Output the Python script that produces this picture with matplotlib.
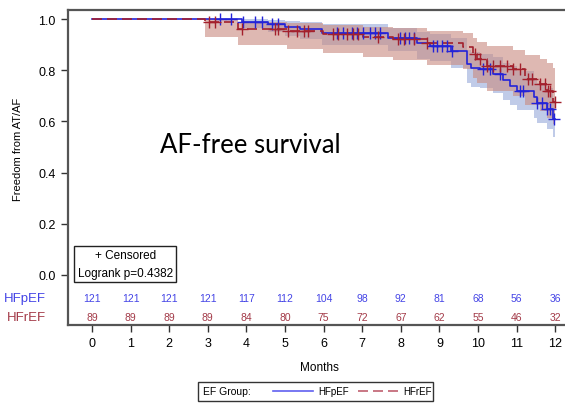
import numpy as np
import matplotlib.pyplot as plt
from matplotlib.lines import Line2D
from matplotlib.patches import Rectangle

plt.rcParams['font.family'] = ['Liberation Sans Narrow', 'Liberation Sans', 'DejaVu Sans']

# HFpEF (blue) step curve and 95% band
t_p = [0, 3.88, 4.57, 5.0, 5.4, 5.95, 7.68, 8.41, 8.76, 9.3, 9.71, 9.83, 10.05, 10.4, 10.66, 10.83, 11.0, 11.44, 11.52, 11.78, 11.95]
s_p = [1.0, 0.99, 0.98, 0.97, 0.96, 0.945, 0.925, 0.905, 0.895, 0.876, 0.824, 0.81, 0.805, 0.785, 0.76, 0.74, 0.72, 0.694, 0.67, 0.648, 0.61]
lo_p = [1.0, 0.965, 0.95, 0.935, 0.92, 0.9, 0.875, 0.845, 0.835, 0.81, 0.75, 0.735, 0.73, 0.71, 0.685, 0.665, 0.645, 0.615, 0.595, 0.57, 0.54]
hi_p = [1.0, 1.0, 0.998, 0.993, 0.988, 0.98, 0.965, 0.95, 0.94, 0.925, 0.88, 0.87, 0.865, 0.85, 0.83, 0.815, 0.795, 0.77, 0.75, 0.73, 0.69]
cens_p = [3.31, 3.61, 3.92, 4.22, 4.4, 4.66, 4.83, 6.34, 6.51, 6.73, 6.86, 7.03, 7.2, 7.33, 7.46,
          7.98, 8.11, 8.2, 8.33, 8.84, 8.93, 9.06, 9.19, 9.32, 10.14, 10.31, 10.57, 11.09, 11.17,
          11.52, 11.65, 11.78, 11.86, 11.97]

# HFrEF (red)
t_r = [0, 2.94, 3.79, 5.04, 5.99, 7.03, 7.8, 8.67, 9.62, 9.88, 9.97, 10.23, 10.91, 11.22, 11.6, 11.78, 11.95]
s_r = [1.0, 0.987, 0.96, 0.952, 0.94, 0.93, 0.922, 0.905, 0.89, 0.863, 0.844, 0.818, 0.805, 0.766, 0.745, 0.72, 0.676]
lo_r = [1.0, 0.928, 0.90, 0.883, 0.866, 0.85, 0.84, 0.82, 0.805, 0.77, 0.75, 0.72, 0.70, 0.665, 0.64, 0.615, 0.59]
hi_r = [1.0, 1.0, 0.99, 0.985, 0.975, 0.97, 0.965, 0.955, 0.945, 0.925, 0.91, 0.895, 0.88, 0.86, 0.845, 0.83, 0.81]
cens_r = [3.02, 3.19, 3.88, 4.74, 4.83, 5.09, 5.3, 5.48, 5.6, 6.25, 6.38, 6.6, 6.77, 6.9, 7.42,
          7.94, 8.07, 8.33, 8.67, 9.93, 10.05, 10.23, 10.4, 10.57, 10.74, 10.91, 11.09, 11.3, 11.39,
          11.6, 11.73, 11.82, 11.86, 12.0]

# numbers at risk
risk_months = list(range(0, 13))
risk_p = [121, 121, 121, 121, 117, 112, 104, 98, 92, 81, 68, 56, 36]
risk_r = [89, 89, 89, 89, 84, 80, 75, 72, 67, 62, 55, 46, 32]

END = 12.0
BLUE = '#2323d8'
RED = '#a3202c'


def step_at(t, s, x):
    idx = np.searchsorted(t, x, side='right') - 1
    return np.array(s)[idx]


fig = plt.figure(figsize=(5.65, 4.06), dpi=100)
ax = fig.add_axes([68 / 565, 1 - 326 / 406, (570 - 68) / 565, (326 - 11) / 406])
ax.set_xlim(-24 / 38.6, (570 - 92) / 38.6)
ax.set_ylim(-50 / 256, 1 + 9 / 256)

# bands (from first event on)
tp = np.array(t_p + [END])
tr = np.array(t_r + [END])
ax.fill_between(tp[1:], lo_p[1:] + [lo_p[-1]], hi_p[1:] + [hi_p[-1]], step='post',
                color='#9eb0dc', alpha=0.65, lw=0)
ax.fill_between(tr[1:], lo_r[1:] + [lo_r[-1]], hi_r[1:] + [hi_r[-1]], step='post',
                color='#c98a80', alpha=0.6, lw=0)

ax.step(tp, s_p + [s_p[-1]], where='post', color=BLUE, lw=1.2)
ax.step(tr, s_r + [s_r[-1]], where='post', color=RED, lw=1.2, dashes=(6, 3))

ax.plot(cens_p, step_at(t_p, s_p, cens_p), '+', color=BLUE, ms=8, mew=1.0)
ax.plot(cens_r, step_at(t_r, s_r, cens_r), '+', color=RED, ms=8, mew=1.0)

# at-risk table
for m, a, b in zip(risk_months, risk_p, risk_r):
    ax.text(m, -0.09, str(a), color='#4444e6', ha='center', va='center', fontsize=7.5)
    ax.text(m, -0.164, str(b), color='#a33a48', ha='center', va='center', fontsize=7.5)
ax.text(-1.2, -0.09, 'HFpEF', color='#4444e6', ha='right', va='center', fontsize=9.5, clip_on=False)
ax.text(-1.2, -0.164, 'HFrEF', color='#a33a48', ha='right', va='center', fontsize=9.5, clip_on=False)

ax.text(0.86, 0.043, '+ Censored\nLogrank p=0.4382', ha='center', va='center', fontsize=8.5,
        linespacing=1.6,
        bbox=dict(boxstyle='square,pad=0.3', fc='white', ec='#222222', lw=1.0))

ax.text(1.76, 0.51, 'AF-free survival', fontsize=18.5, family=['Lato', 'DejaVu Sans'],
        ha='left', va='center')

ax.set_xticks(risk_months)
ax.set_yticks([0.0, 0.2, 0.4, 0.6, 0.8, 1.0])
ax.set_yticklabels(['0.0', '0.2', '0.4', '0.6', '0.8', '1.0'])
ax.tick_params(axis='both', labelsize=9, length=5, width=1, color='#333333', pad=4)
ax.set_xlabel('Months', fontsize=8.5, labelpad=8)
ax.set_ylabel('Freedom from AT/AF', fontsize=8, labelpad=8)
ax.yaxis.set_label_coords(-0.09, 0.56)
for sp in ax.spines.values():
    sp.set_color('#555555')
    sp.set_linewidth(1.6)

# legend strip at the bottom
fig.patches.append(Rectangle((198 / 565, 1 - 402 / 406), 235 / 565, 19 / 406,
                             transform=fig.transFigure, fill=False, ec='#333333', lw=1.0))
fig.text(203 / 565, 1 - 392 / 406, 'EF Group:', fontsize=7.5, va='center', ha='left')
fig.lines.append(Line2D([273 / 565, 313 / 565], [1 - 392 / 406] * 2, transform=fig.transFigure,
                        color='#6060f0', lw=1.2))
fig.text(318 / 565, 1 - 392 / 406, 'HFpEF', fontsize=7, va='center', ha='left')
fig.lines.append(Line2D([358 / 565, 398 / 565], [1 - 392 / 406] * 2, transform=fig.transFigure,
                        color='#c06070', lw=1.2, dashes=(6, 3)))
fig.text(403 / 565, 1 - 392 / 406, 'HFrEF', fontsize=7, va='center', ha='left')

fig.savefig('out.png', dpi=100)
